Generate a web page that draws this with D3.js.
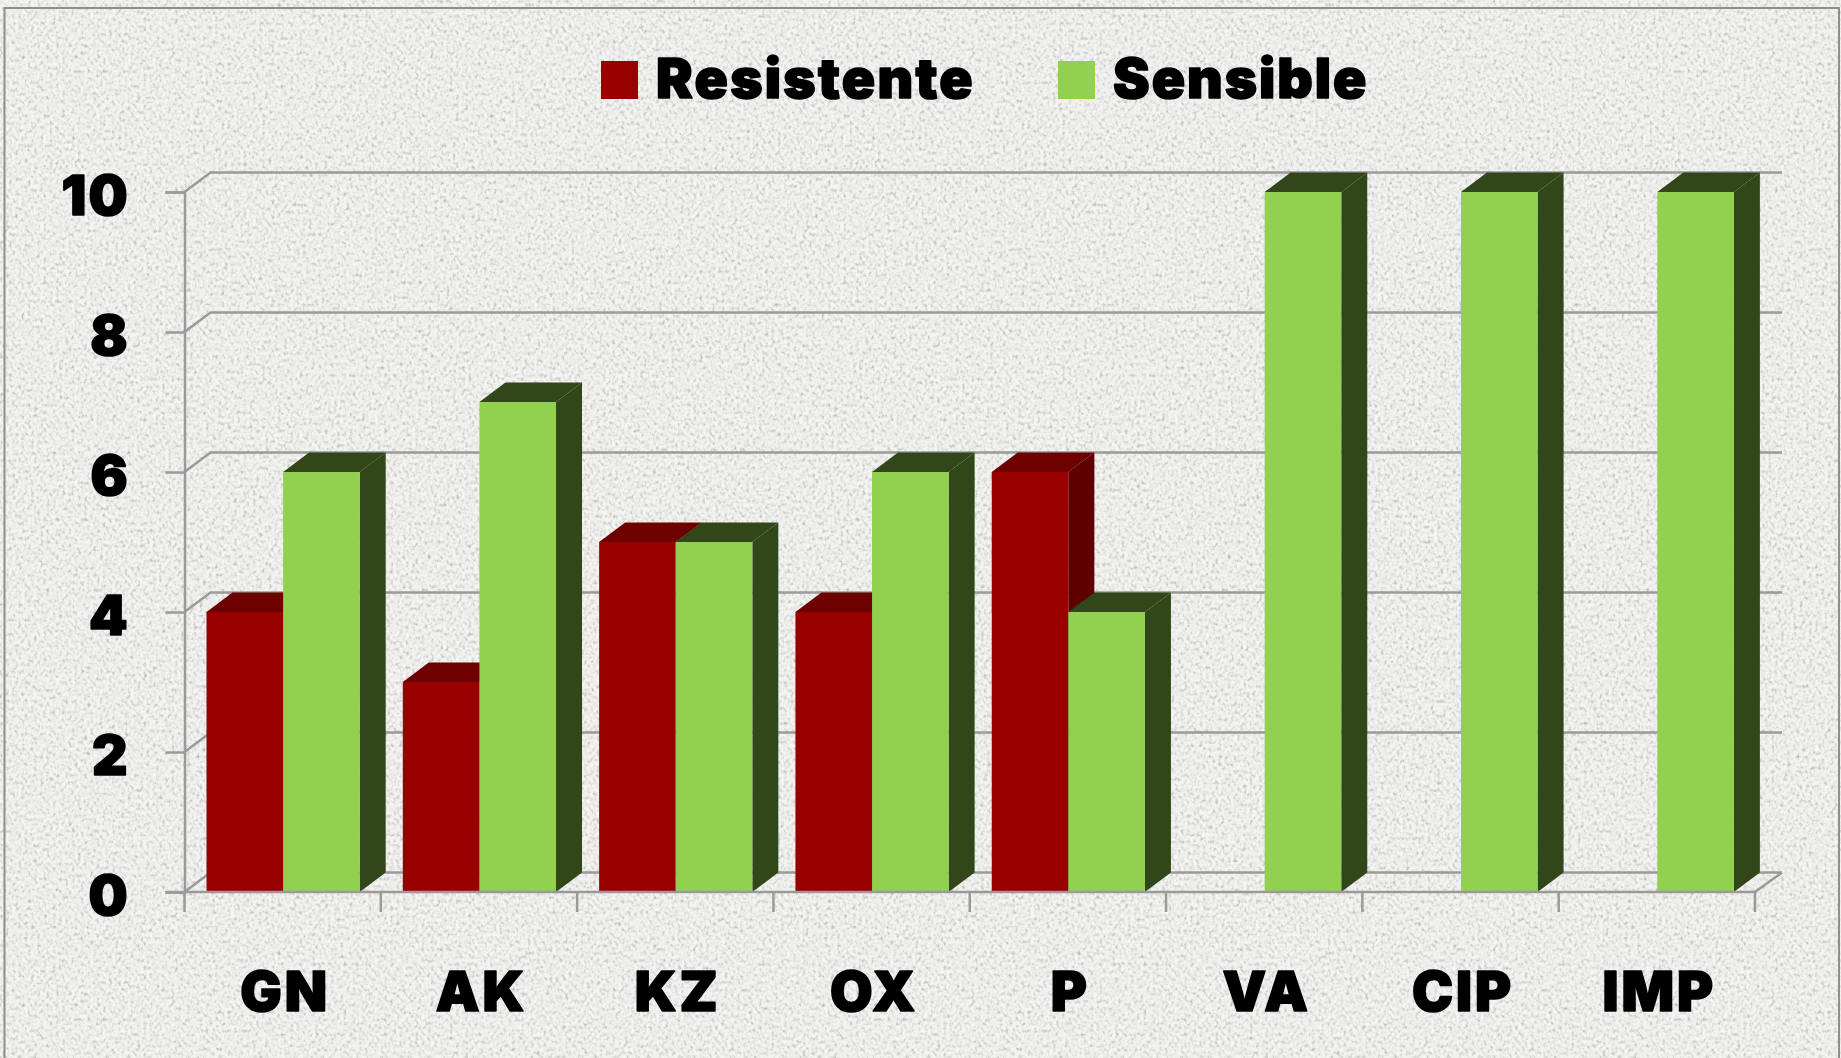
<!DOCTYPE html>
<html><head><meta charset="utf-8">
<style>html,body{margin:0;padding:0;background:#ebebe8;overflow:hidden}
svg{display:block;filter:blur(0.6px)}
text{font-family:Inter,"Liberation Sans",sans-serif;font-weight:900;fill:#000;stroke:#000;stroke-width:1.6;stroke-linejoin:round}</style>
<script src="https://cdn.jsdelivr.net/npm/d3@7"></script></head><body>
<svg id="c" width="1841" height="1058"></svg>
<script>
const categories = ["GN","AK","KZ","OX","P","VA","CIP","IMP"];
const seriesNames = ["Resistente","Sensible"];
const resistente = [4,3,5,4,6,0,0,0];
const sensible = [6,7,5,6,4,10,10,10];
const yTicks = [0,2,4,6,8,10];
const seriesColors = {Resistente:{front:"#990000",top:"#6e0000",side:"#5e0000"},Sensible:{front:"#92d050",top:"#31471a",side:"#31471a"}};

const svg = d3.select("#c");
const defs = svg.append("defs");
const f = defs.append("filter").attr("id","paper").attr("x",0).attr("y",0).attr("width","100%").attr("height","100%").attr("color-interpolation-filters","sRGB");
f.append("feTurbulence").attr("type","fractalNoise").attr("baseFrequency","0.32 0.27").attr("numOctaves",2).attr("seed",7);
f.append("feColorMatrix").attr("type","matrix").attr("values",
 "1.1 0.5 0 0 -0.3  1.1 0.5 0 0 -0.3  1.1 0.5 0 0 -0.3  0 0 0 0 1");
f.append("feComponentTransfer").call(s=>{
  const tables = {feFuncR:"0.72 0.80 0.875 0.93 0.955 0.965 0.97",feFuncG:"0.72 0.80 0.875 0.93 0.955 0.965 0.97",feFuncB:"0.715 0.795 0.87 0.922 0.945 0.955 0.96"};
  Object.keys(tables).forEach(n=>s.append(n).attr("type","table").attr("tableValues",tables[n]));
});
svg.append("rect").attr("width",1841).attr("height",1058).attr("filter","url(#paper)");
svg.append("rect").attr("x",4.5).attr("y",8).attr("width",1834.5).attr("height",1070).attr("fill","none").attr("stroke","#8e8e8e").attr("stroke-width",2);

const depthX = 26, depthY = 19.5;
const x = d3.scaleBand().domain(categories).range([184.5,1755]);
const inner = d3.scaleBand().domain(seriesNames).range([22,175.2]);
const y = d3.scaleLinear().domain([0,10]).range([892,192]);
const grid = "#9a9a9a";

// walls
const g = svg.append("g").attr("fill","none").attr("stroke",grid).attr("stroke-width",2.5);
g.selectAll(".h").data(yTicks).join("path").attr("d",d=>d3.line()([[x.range()[0],y(d)],[x.range()[0]+depthX,y(d)-depthY],[x.range()[1]+depthX+1,y(d)-depthY]]));
g.append("path").attr("d",d3.line()([[x.range()[1],y(0)],[x.range()[1]+depthX+1,y(0)-depthY]]));

// axes
const axisY = d3.axisLeft(y).tickValues(yTicks).tickSize(19).tickPadding(0).tickFormat(d3.format("d"));
const gy = svg.append("g").attr("transform",`translate(${x.range()[0]},0)`).call(axisY);
gy.selectAll("path,line").attr("stroke",grid).attr("stroke-width",2.5);
gy.selectAll("text").attr("x",-55).attr("y",22.5).attr("dy",0).attr("text-anchor","end").attr("font-size",55).attr("letter-spacing",2);

// bars
const rows = categories.map((c,i)=>({c,vals:[{s:"Resistente",v:resistente[i]},{s:"Sensible",v:sensible[i]}]}));
const flat = rows.flatMap(r=>r.vals.map(e=>({c:r.c,s:e.s,v:e.v}))).filter(d=>d.v>0);
const bars = svg.append("g").selectAll("g").data(flat).join("g");
const bx0 = d=>x(d.c)+inner(d.s), bx1 = d=>bx0(d)+inner.bandwidth();
bars.append("path").attr("fill",d=>seriesColors[d.s].top).attr("d",d=>d3.line()([[bx0(d),y(d.v)],[bx0(d)+depthX,y(d.v)-depthY],[bx1(d)+depthX,y(d.v)-depthY],[bx1(d),y(d.v)]])+"Z");
bars.append("path").attr("fill",d=>seriesColors[d.s].side).attr("d",d=>d3.line()([[bx1(d),y(d.v)],[bx1(d)+depthX,y(d.v)-depthY],[bx1(d)+depthX,y(0)-depthY],[bx1(d),y(0)]])+"Z");
bars.append("rect").attr("fill",d=>seriesColors[d.s].front).attr("x",bx0).attr("y",d=>y(d.v)).attr("width",inner.bandwidth()).attr("height",d=>y(0)-y(d.v));

// bottom axis line and ticks
const bottom = svg.append("g").attr("stroke",grid).attr("stroke-width",2.5);
bottom.append("line").attr("x1",x.range()[0]-19).attr("x2",x.range()[1]).attr("y1",y(0)).attr("y2",y(0));
bottom.selectAll(".t").data(d3.range(categories.length+1)).join("line")
 .attr("x1",i=>x.range()[0]+i*x.step()).attr("x2",i=>x.range()[0]+i*x.step()).attr("y1",y(0)).attr("y2",y(0)+20);
svg.append("g").selectAll("text").data(categories).join("text").attr("x",d=>x(d)+x.bandwidth()/2+2.5).attr("y",1010.5).attr("text-anchor","middle").attr("font-size",55).attr("letter-spacing",3).text(d=>d);

// legend
const legendItems = [{n:"Resistente",sx:601,tx:656,ls:2.3},{n:"Sensible",sx:1058,tx:1113,ls:2}];
const lg = svg.append("g").selectAll("g").data(legendItems).join("g");
lg.append("rect").attr("x",d=>d.sx).attr("y",61).attr("width",37).attr("height",38).attr("fill",d=>seriesColors[d.n].front);
lg.append("text").attr("x",d=>d.tx).attr("y",98).attr("font-size",55).attr("letter-spacing",d=>d.ls).text(d=>d.n);
</script></body></html>
